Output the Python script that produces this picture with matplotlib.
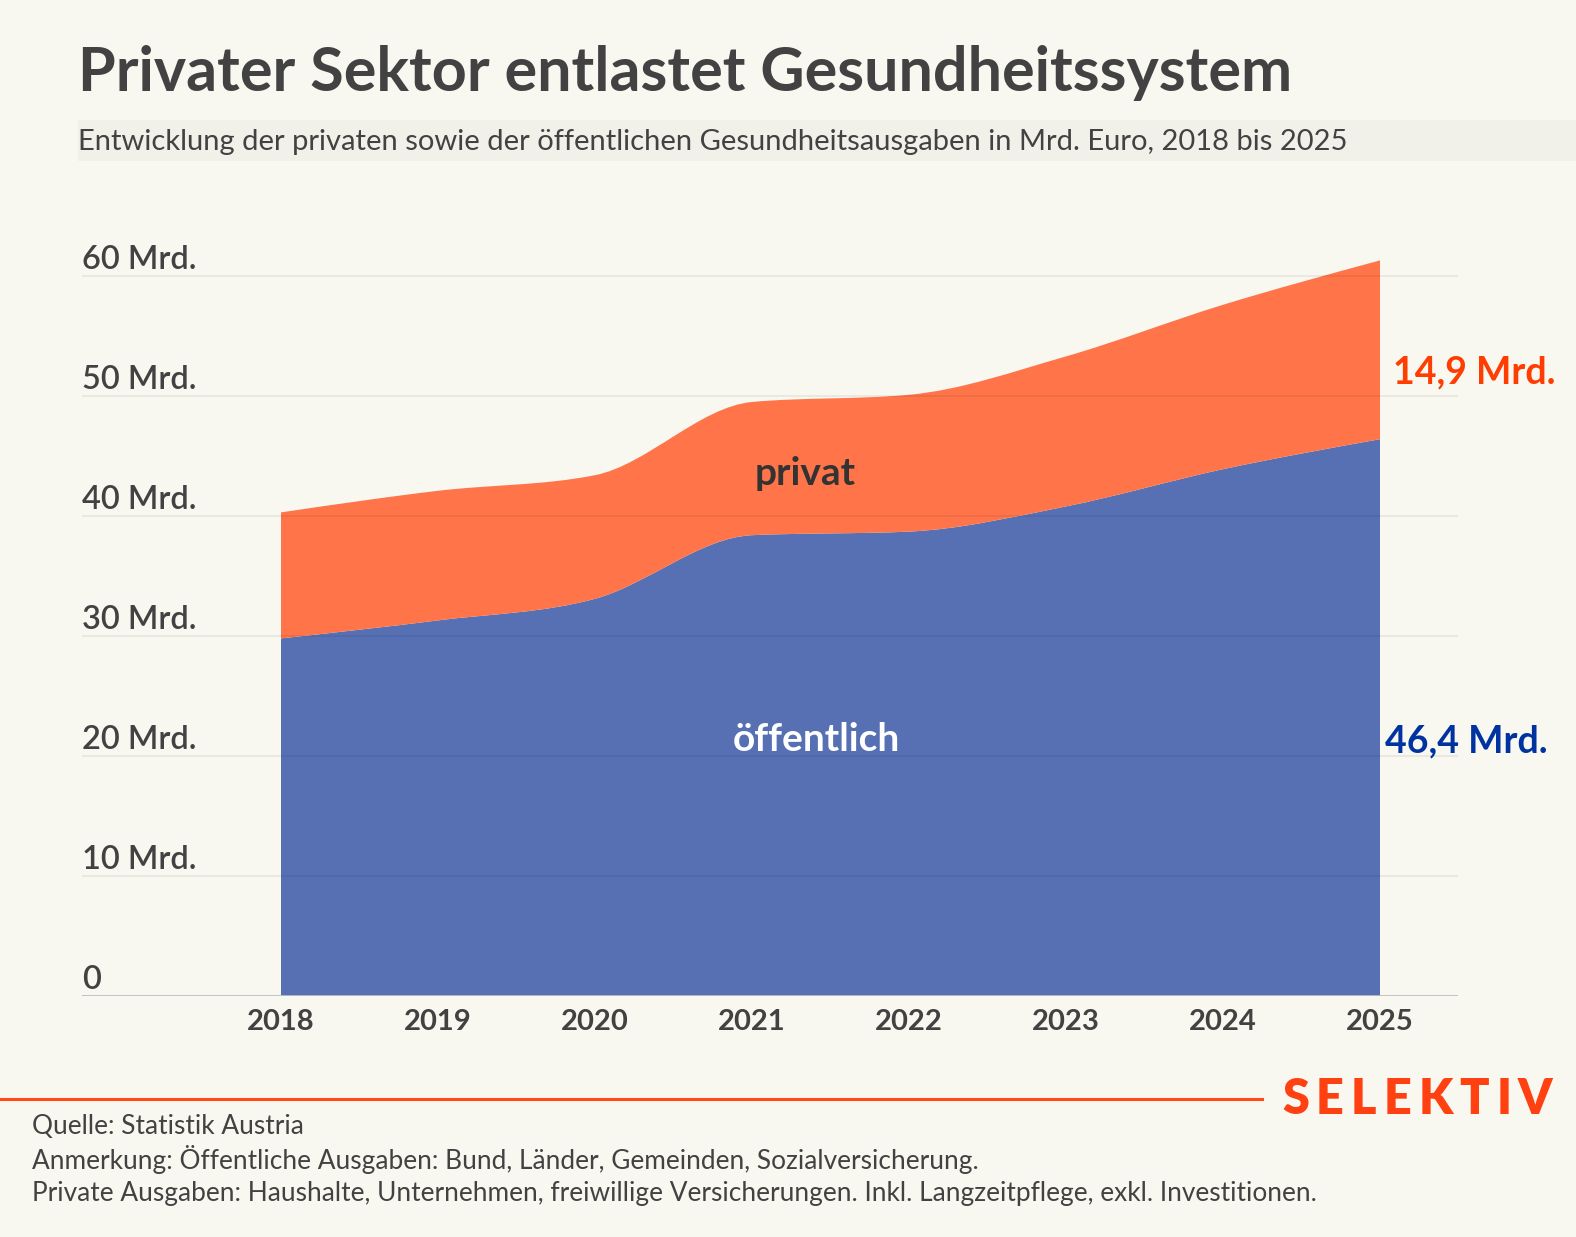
import numpy as np
import matplotlib.pyplot as plt
from matplotlib.path import Path
from matplotlib.patches import PathPatch, Rectangle

# Gesundheitsausgaben in Mrd. Euro
YEARS = [2018, 2019, 2020, 2021, 2022, 2023, 2024, 2025]
PUBLIC = [29.8, 31.3, 33.1, 38.4, 38.7, 40.8, 43.9, 46.4]
PRIVATE = [10.5, 10.8, 10.3, 11.1, 11.4, 12.5, 13.7, 14.9]
Y_TICKS = [0, 10, 20, 30, 40, 50, 60]
Y_LABELS = ["0", "10 Mrd.", "20 Mrd.", "30 Mrd.", "40 Mrd.", "50 Mrd.", "60 Mrd."]

BG = "#F8F7F0"
ORANGE = "#FF7448"
BLUE = "#5670B3"
TEXT = "#424242"
FONT = "Lato"


def monotone_tangents(x, y):
    # same rule as d3.curveMonotoneX
    n = len(x)
    t = np.zeros(n)
    for i in range(1, n - 1):
        h0, h1 = x[i] - x[i - 1], x[i + 1] - x[i]
        s0, s1 = (y[i] - y[i - 1]) / h0, (y[i + 1] - y[i]) / h1
        p = (s0 * h1 + s1 * h0) / (h0 + h1)
        t[i] = (np.sign(s0) + np.sign(s1)) * min(abs(s0), abs(s1), 0.5 * abs(p))
    t[0] = (3 * (y[1] - y[0]) / (x[1] - x[0]) - t[1]) / 2
    t[-1] = (3 * (y[-1] - y[-2]) / (x[-1] - x[-2]) - t[-2]) / 2
    return t


def curve_segments(x, y):
    t = monotone_tangents(x, y)
    verts = []
    for i in range(len(x) - 1):
        dx = (x[i + 1] - x[i]) / 3
        verts += [(x[i] + dx, y[i] + dx * t[i]),
                  (x[i + 1] - dx, y[i + 1] - dx * t[i + 1]),
                  (x[i + 1], y[i + 1])]
    return verts


def band_path(x, lower, upper):
    verts = [(x[0], upper[0])] + curve_segments(x, upper)
    codes = [Path.MOVETO] + [Path.CURVE4] * (len(verts) - 1)
    xr, lr = x[::-1], lower[::-1]
    verts.append((xr[0], lr[0]))
    codes.append(Path.LINETO)
    low = curve_segments(xr, lr)
    verts += low
    codes += [Path.CURVE4] * len(low)
    verts.append((x[0], upper[0]))
    codes.append(Path.CLOSEPOLY)
    return Path(verts, codes)


x = np.array(YEARS, dtype=float)
pub = np.array(PUBLIC)
tot = pub + np.array(PRIVATE)

W, H = 1576, 1237
fig = plt.figure(figsize=(W / 100, H / 100), dpi=100, facecolor=BG)

# axes placed in pixels: x 82..1458, y 258..996
ax = fig.add_axes([82 / W, (H - 996) / H, (1458 - 82) / W, (996 - 258) / H])
ax.set_facecolor(BG)
ax.set_xlim(2018 - 199 / 157, 2025 + 78 / 157)
ax.set_ylim(0, 61.5)

ax.add_patch(PathPatch(band_path(x, np.zeros_like(pub), pub), facecolor=BLUE, edgecolor="none", zorder=2))
ax.add_patch(PathPatch(band_path(x, pub, tot), facecolor=ORANGE, edgecolor="none", zorder=2))

for v in Y_TICKS[1:]:
    ax.axhline(v, color="#000000", alpha=0.07, lw=1.2, zorder=3)
ax.axhline(0, color="#BDBDBD", lw=2, zorder=4)

for v, lab in zip(Y_TICKS, Y_LABELS):
    ax.text(0, v + 0.55, lab, transform=ax.get_yaxis_transform(), ha="left", va="baseline",
            fontsize=23.5, color=TEXT, family=FONT, fontweight="semibold")

for s in ax.spines.values():
    s.set_visible(False)
ax.set_yticks([])
ax.set_xticks(YEARS)
ax.set_xticklabels([str(y) for y in YEARS], fontsize=21, color=TEXT, family=FONT, fontweight="bold")
ax.tick_params(axis="x", length=0, pad=9)

ax.text(2021.34, 43.5, "privat", ha="center", va="center", fontsize=28, fontweight="bold",
        color="#333333", family=FONT, zorder=5)
ax.text(2021.41, 21.4, "öffentlich", ha="center", va="center", fontsize=28, fontweight="bold",
        color="white", family=FONT, zorder=5)

ax.text(2025.08, 52.0, "14,9 Mrd.", ha="left", va="center", fontsize=27, fontweight="bold",
        color="#FF3D00", family=FONT, clip_on=False)
ax.text(2025.03, 21.2, "46,4 Mrd.", ha="left", va="center", fontsize=27, fontweight="bold",
        color="#0033A0", family=FONT, clip_on=False)

# Titel und Untertitel
fig.text(78 / W, 1 - 73 / H, "Privater Sektor entlastet Gesundheitssystem", ha="left", va="center",
         fontsize=44, fontweight="bold", color=TEXT, family=FONT)
fig.patches.append(Rectangle((78 / W, 1 - 161 / H), 1 - 78 / W, 41 / H, transform=fig.transFigure,
                             facecolor="#F1F0E9", edgecolor="none", zorder=0))
fig.text(78 / W, 1 - 142 / H,
         "Entwicklung der privaten sowie der öffentlichen Gesundheitsausgaben in Mrd. Euro, 2018 bis 2025",
         ha="left", va="center", fontsize=21, color=TEXT, family=FONT)

# Fußzeile
fig.add_artist(plt.Line2D([0, 1262 / W], [1 - 1099 / H] * 2, color="#FF4A1A", lw=2.2,
                          transform=fig.transFigure))

# Logo mit Sperrung: Buchstaben einzeln setzen
renderer = fig.canvas.get_renderer()
logo_x = 1282.0
for ch in "SELEKTIV":
    t = fig.text(logo_x / W, 1 - 1099 / H, ch, ha="left", va="center", fontsize=35,
                 fontweight="heavy", color="#FF4010", family=FONT)
    logo_x += t.get_window_extent(renderer).width + 7

footer = ["Quelle: Statistik Austria",
          "Anmerkung: Öffentliche Ausgaben: Bund, Länder, Gemeinden, Sozialversicherung.",
          "Private Ausgaben: Haushalte, Unternehmen, freiwillige Versicherungen. Inkl. Langzeitpflege, exkl. Investitionen."]
for i, line in enumerate(footer):
    fig.text(32 / W, 1 - (1127 + 33 * i) / H, line, ha="left", va="center", fontsize=18.9,
             color=TEXT, family=FONT)

fig.savefig("out.png", dpi=100, facecolor=BG)
